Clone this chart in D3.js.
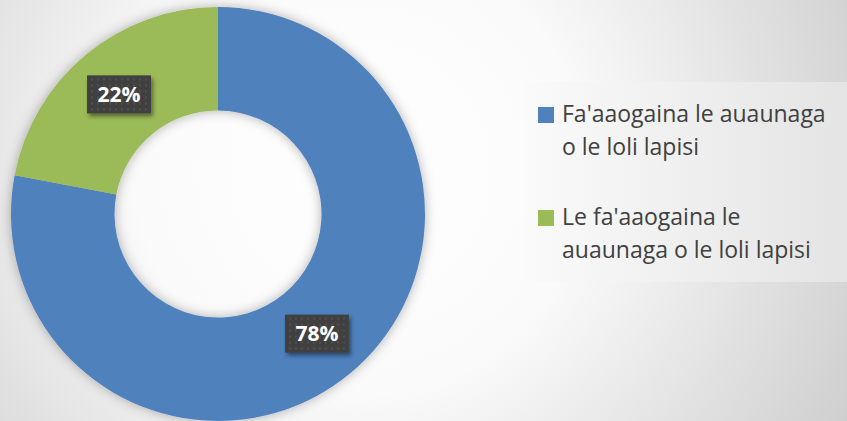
<!DOCTYPE html>
<html>
<head>
<meta charset="utf-8">
<script src="https://cdn.jsdelivr.net/npm/d3@7"></script>
<style>
  body { margin: 0; overflow: hidden; }
  svg { display: block; }
</style>
</head>
<body>
<script>
const W = 847
const H = 421

// data
const categories = ["Fa'aaogaina le auaunaga o le loli lapisi", "Le fa'aaogaina le auaunaga o le loli lapisi"]
const legendLines = [["Fa'aaogaina le auaunaga", 'o le loli lapisi'], ["Le fa'aaogaina le", 'auaunaga o le loli lapisi']]
const values = [78, 22]
const labels = ['78%', '22%']
const colors = ['#4f81bd', '#9bbb59']

const svg = d3.select('body').append('svg')
  .attr('width', W)
  .attr('height', H)

const defs = svg.append('defs')

const bg = defs.append('radialGradient')
  .attr('id', 'bg')
  .attr('gradientUnits', 'userSpaceOnUse')
  .attr('cx', 360).attr('cy', 170).attr('r', 560)
bg.append('stop').attr('offset', '0%').attr('stop-color', '#ffffff')
bg.append('stop').attr('offset', '40%').attr('stop-color', '#fafafa')
bg.append('stop').attr('offset', '100%').attr('stop-color', '#cdcdcd')

const ringShadow = defs.append('filter')
  .attr('id', 'ringShadow')
  .attr('x', '-20%').attr('y', '-20%').attr('width', '140%').attr('height', '140%')
ringShadow.append('feDropShadow')
  .attr('dx', 0).attr('dy', 0)
  .attr('stdDeviation', 6)
  .attr('flood-color', '#000')
  .attr('flood-opacity', 0.3)

const boxShadow = defs.append('filter')
  .attr('id', 'boxShadow')
  .attr('x', '-30%').attr('y', '-30%').attr('width', '160%').attr('height', '160%')
boxShadow.append('feDropShadow')
  .attr('dx', 2).attr('dy', 3)
  .attr('stdDeviation', 2)
  .attr('flood-color', '#000')
  .attr('flood-opacity', 0.45)

const dots = defs.append('pattern')
  .attr('id', 'dots')
  .attr('patternUnits', 'userSpaceOnUse')
  .attr('width', 6).attr('height', 6)
dots.append('rect').attr('width', 6).attr('height', 6).attr('fill', '#404040')
dots.append('circle').attr('cx', 3).attr('cy', 3).attr('r', 0.9).attr('fill', '#575757')

const legendFill = defs.append('linearGradient')
  .attr('id', 'legendFill')
  .attr('x1', 0).attr('x2', 1).attr('y1', 0).attr('y2', 0)
legendFill.append('stop').attr('offset', '0%').attr('stop-color', '#fafafa')
legendFill.append('stop').attr('offset', '100%').attr('stop-color', '#e4e4e4')

svg.append('rect')
  .attr('width', W)
  .attr('height', H)
  .attr('fill', 'url(#bg)')

// donut
const cx = 218
const cy = 214
const outerR = 207
const innerR = 103.5

const pie = d3.pie().sort(null).value(d => d)
const arcs = pie(values)
const arc = d3.arc().innerRadius(innerR).outerRadius(outerR)

const g = svg.append('g')
  .attr('transform', `translate(${cx}, ${cy})`)

g.append('g')
  .attr('filter', 'url(#ringShadow)')
  .selectAll('path')
  .data(arcs)
  .join('path')
    .attr('d', arc)
    .attr('fill', (d, i) => colors[i])

const label = g.selectAll('.label')
  .data(arcs)
  .join('g')
    .attr('class', 'label')
    .attr('transform', d => `translate(${arc.centroid(d)})`)

label.append('rect')
  .attr('x', -32).attr('y', -19)
  .attr('width', 64).attr('height', 38)
  .attr('fill', 'url(#dots)')
  .attr('filter', 'url(#boxShadow)')

label.append('text')
  .attr('text-anchor', 'middle')
  .attr('dy', '0.36em')
  .attr('font-family', 'Open Sans, sans-serif')
  .attr('font-weight', 'bold')
  .attr('font-size', 21)
  .attr('fill', '#ffffff')
  .text((d, i) => labels[i])

// legend
svg.append('rect')
  .attr('x', 524).attr('y', 82)
  .attr('width', W - 524).attr('height', 200)
  .attr('fill', 'url(#legendFill)')

const legend = svg.append('g')
  .attr('transform', 'translate(538, 107)')

const item = legend.selectAll('g')
  .data(categories)
  .join('g')
    .attr('transform', (d, i) => `translate(0, ${i * 103})`)

item.append('rect')
  .attr('width', 16).attr('height', 16)
  .attr('fill', (d, i) => colors[i])

item.append('text')
  .attr('x', 24)
  .attr('y', 15)
  .attr('font-family', 'Open Sans, sans-serif')
  .attr('font-size', 23)
  .attr('fill', '#404040')
  .selectAll('tspan')
  .data((d, i) => legendLines[i])
  .join('tspan')
    .attr('x', 24)
    .attr('dy', (d, j) => j === 0 ? 0 : 33)
    .text(d => d)
</script>
</body>
</html>
